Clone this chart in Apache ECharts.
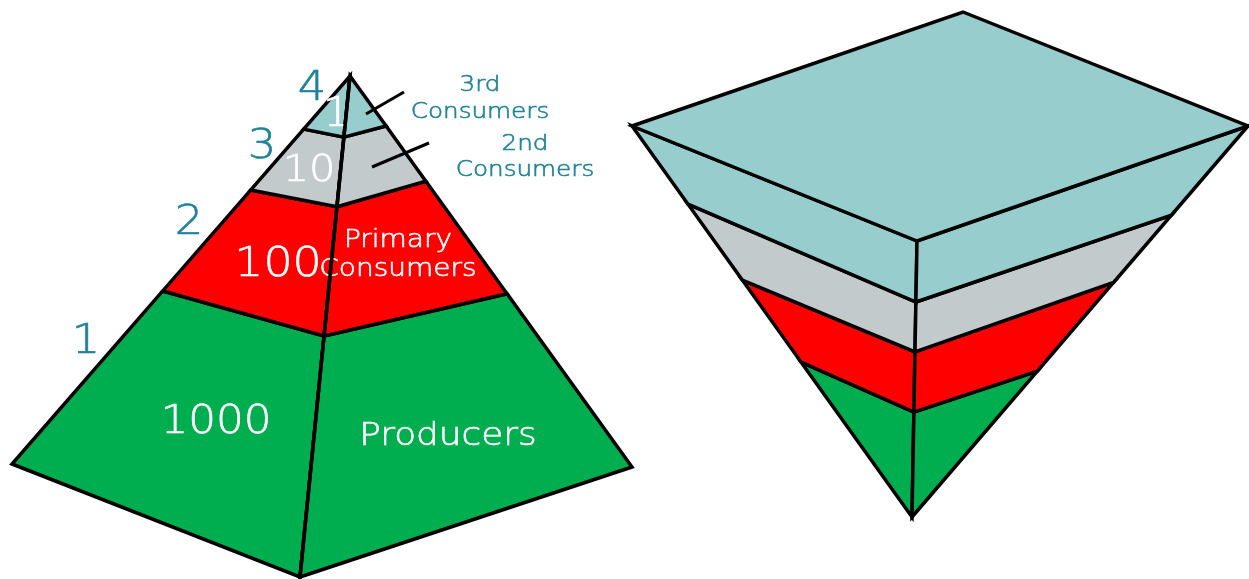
<!DOCTYPE html>
<html>
<head>
<meta charset="utf-8">
<title>Energy pyramid</title>
<script src="https://cdn.jsdelivr.net/npm/echarts@6/dist/echarts.min.js"></script>
<style>
  html, body { margin: 0; padding: 0; background: #ffffff; }
  #chart { width: 1249px; height: 579px; }
</style>
</head>
<body>
<div id="chart"></div>
<script>
// Trophic levels, bottom (producers) to top (3rd consumers)
const trophicLevels = ['1', '2', '3', '4'];
const organismCounts = [1000, 100, 10, 1];
const roleNames = ['Producers', 'Primary\nConsumers', '2nd\nConsumers', '3rd\nConsumers'];

// Fill per level
const levelColors = ['#00AE50', '#FF0000', '#C2CACB', '#98CDCD'];
const TEAL_TEXT = '#1E8398';
const FONT = '"DejaVu Sans", sans-serif';
const TEXT_STRETCH = 1.12;
const EDGE_WIDTH = 3.5;

// Upright pyramid: apex and three visible base corners (drawing units)
const upright = { apex: [350, 76], left: [12, 464], front: [300, 577], right: [632, 467] };
// Fraction along apex->corner edges where each level starts/ends (index 0 = base)
const uprightCuts = {
  left:  [1, 0.554, 0.294, 0.137, 0],
  front: [1, 0.519, 0.261, 0.122, 0],
  right: [1, 0.557, 0.269, 0.128, 0]
};

// Inverted pyramid: top face corners and the tip
const inverted = { back: [963, 12], left: [632, 126], front: [917, 241], right: [1248, 126], tip: [912, 517] };
// Fraction along rim->tip edges (index 0 = tip end of level 1)
const invertedCuts = {
  left:  [1, 0.604, 0.394, 0.200, 0],
  front: [1, 0.620, 0.402, 0.221, 0],
  right: [1, 0.627, 0.400, 0.228, 0]
};

// Label anchors and sizes
const levelNumberPos = [[86, 343], [189, 224], [262, 148], [312, 90]];
const countPos = [[216, 423], [278, 265], [309, 171], [337, 116]];
const countSize = [39, 41, 37, 40];
const rolePos = [[448, 437], [398, 255], [525, 157], [480, 99]];
const roleSize = [32, 25, 22, 22];
const roleLineHeight = [38, 29, 26, 27];
const roleColor = ['#ffffff', '#ffffff', TEAL_TEXT, TEAL_TEXT];
const leaderLines = [null, null, [[372, 167], [429, 143]], [[366, 114], [404, 92]]];

function lerp(a, b, t) { return [a[0] + (b[0] - a[0]) * t, a[1] + (b[1] - a[1]) * t]; }

function label(pos, text, size, color, lineHeight) {
  return {
    type: 'text', x: pos[0], y: pos[1], scaleX: TEXT_STRETCH,
    style: {
      text, fill: color, font: '200 ' + size + 'px ' + FONT,
      align: 'center', verticalAlign: 'middle',
      lineHeight: lineHeight || size,
      stroke: color, lineWidth: 0.6
    }
  };
}

function renderLevel(params, api) {
  const i = api.value(0);
  const c = p => api.coord(p);
  const fill = levelColors[i];
  const stroke = { stroke: '#000', lineWidth: EDGE_WIDTH, lineJoin: 'miter' };
  const children = [];

  // Upright pyramid band for this level
  const uL = lerp(upright.apex, upright.left, uprightCuts.left[i]);
  const uF = lerp(upright.apex, upright.front, uprightCuts.front[i]);
  const uR = lerp(upright.apex, upright.right, uprightCuts.right[i]);
  const uL2 = lerp(upright.apex, upright.left, uprightCuts.left[i + 1]);
  const uF2 = lerp(upright.apex, upright.front, uprightCuts.front[i + 1]);
  const uR2 = lerp(upright.apex, upright.right, uprightCuts.right[i + 1]);
  children.push({ type: 'polygon', shape: { points: [uL, uF, uF2, uL2].map(c) }, style: Object.assign({ fill }, stroke) });
  children.push({ type: 'polygon', shape: { points: [uF, uR, uR2, uF2].map(c) }, style: Object.assign({ fill }, stroke) });

  // Inverted pyramid band for this level
  const vL = lerp(inverted.left, inverted.tip, invertedCuts.left[i]);
  const vF = lerp(inverted.front, inverted.tip, invertedCuts.front[i]);
  const vR = lerp(inverted.right, inverted.tip, invertedCuts.right[i]);
  const vL2 = lerp(inverted.left, inverted.tip, invertedCuts.left[i + 1]);
  const vF2 = lerp(inverted.front, inverted.tip, invertedCuts.front[i + 1]);
  const vR2 = lerp(inverted.right, inverted.tip, invertedCuts.right[i + 1]);
  children.push({ type: 'polygon', shape: { points: [vL, vF, vF2, vL2].map(c) }, style: Object.assign({ fill }, stroke) });
  children.push({ type: 'polygon', shape: { points: [vF, vR, vR2, vF2].map(c) }, style: Object.assign({ fill }, stroke) });
  if (i === trophicLevels.length - 1) {
    children.push({ type: 'polygon', shape: { points: [inverted.back, inverted.right, inverted.front, inverted.left].map(c) }, style: Object.assign({ fill }, stroke) });
  }

  // Level number beside the left edge, count on the left face, role name
  children.push(label(c(levelNumberPos[i]), trophicLevels[i], 40, TEAL_TEXT));
  children.push(label(c(countPos[i]), String(organismCounts[i]), countSize[i], '#ffffff'));
  children.push(label(c(rolePos[i]), roleNames[i], roleSize[i], roleColor[i], roleLineHeight[i]));

  // Leader line from the label to its band
  if (leaderLines[i]) {
    children.push({ type: 'polyline', shape: { points: leaderLines[i].map(c) }, style: { stroke: '#000', lineWidth: 3, fill: null } });
  }

  // Front edge redrawn over the labels
  const a = c(uF), b = c(uF2);
  children.push({ type: 'line', shape: { x1: a[0], y1: a[1], x2: b[0], y2: b[1] }, style: { stroke: '#000', lineWidth: EDGE_WIDTH } });

  return { type: 'group', children };
}

const chart = echarts.init(document.getElementById('chart'), null, { renderer: 'canvas' });
chart.setOption({
  animation: false,
  backgroundColor: '#ffffff',
  grid: { left: 0, right: 0, top: 0, bottom: 0 },
  xAxis: { type: 'value', min: 0, max: 1249, show: false },
  yAxis: { type: 'value', min: 0, max: 579, inverse: true, show: false },
  series: [{
    type: 'custom',
    coordinateSystem: 'cartesian2d',
    renderItem: renderLevel,
    clip: false,
    data: trophicLevels.map((_, i) => [i])
  }]
});
</script>
</body>
</html>
